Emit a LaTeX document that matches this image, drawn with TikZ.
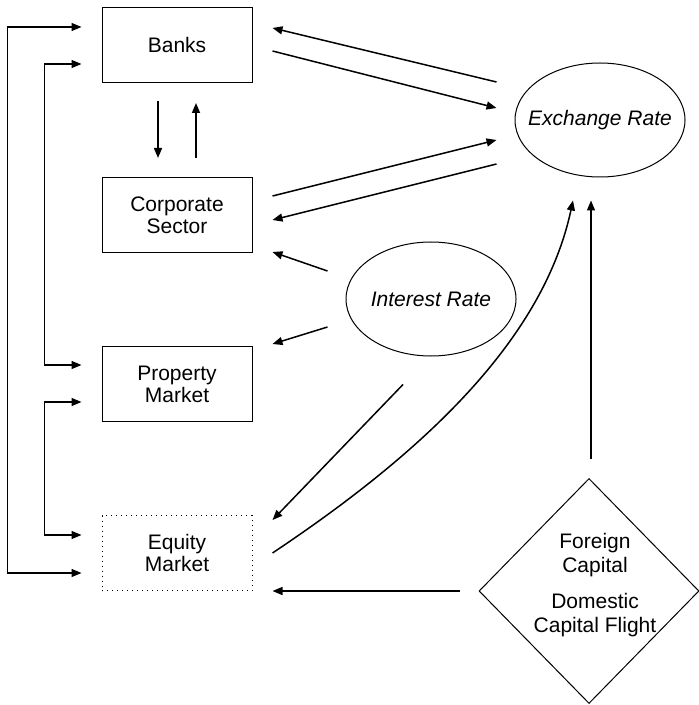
\documentclass[tikz,border=0pt]{standalone}
\usepackage{fontspec}
\setmainfont{Liberation Sans}
\usetikzlibrary{shapes.geometric,arrows.meta}

\begin{document}
\begin{tikzpicture}[x=0.5pt, y=-0.5pt, every node/.style={font=\fontsize{10.5}{11}\selectfont},
  box/.style={rectangle,draw,line width=0.5pt,minimum width=75pt,minimum height=37.5pt,align=center,inner sep=0pt},
  oval/.style={ellipse,draw,line width=0.5pt,minimum width=85pt,minimum height=57pt,inner sep=0pt},
  arr/.style={-{Triangle[length=5pt,width=4pt]},line width=0.75pt},
  twoway/.style={{Triangle[length=5pt,width=4pt]}-{Triangle[length=5pt,width=4pt]},line width=0.65pt}]

\useasboundingbox (0,0) rectangle (698,705);

% Sectors
\node[box] (banks) at (177,45) {Banks};
\node[box] (corp) at (177,215) {Corporate\\Sector};
\node[box] (prop) at (177,384) {Property\\Market};
\node[box,dotted] (equity) at (177,553) {Equity\\Market};

% Rates and capital flows
\node[oval,label=center:{\itshape Exchange Rate}] (exch) at (600,120) {};
\node[oval,label=center:{\itshape Interest Rate}] (intr) at (431,299) {};
\node[diamond,draw,line width=0.5pt,minimum width=110pt,minimum height=112.5pt,inner sep=0pt,
  label={[align=center,xshift=3pt,yshift=3pt,font=\fontsize{10.5}{12}\selectfont]center:Foreign\\Capital\\[6pt]Domestic\\Capital Flight}] (cap) at (589,591) {};

% Left feedback loops
\draw[twoway] ([shift={(-20,-18)}]banks.west) -- ++(-74,0) |- ([shift={(-20,20)}]equity.west);
\draw[twoway] ([shift={(-20,19)}]banks.west) -- ++(-37,0) |- ([shift={(-20,-19)}]prop.west);
\draw[twoway] ([shift={(-20,18)}]prop.west) -- ++(-37,0) |- ([shift={(-20,-18)}]equity.west);

% Banks <-> corporate sector
\draw[arr] ([shift={(-19,18)}]banks.south) -- ([shift={(-19,-19)}]corp.north);
\draw[arr] ([shift={(19,-19)}]corp.north) -- ([shift={(19,20)}]banks.south);

% Exchange rate links
\draw[arr] ([shift={(-18,-38)}]exch.west) -- ([shift={(20,-17)}]banks.east);
\draw[arr] ([shift={(20,6)}]banks.east) -- ([shift={(-18,-12)}]exch.west);
\draw[arr] ([shift={(20,-19)}]corp.east) -- ([shift={(-18,20)}]exch.west);
\draw[arr] ([shift={(-18,44)}]exch.west) -- ([shift={(20,5)}]corp.east);

% Interest rate links
\draw[arr] ([shift={(-18,-28)}]intr.west) -- ([shift={(20,37)}]corp.east);
\draw[arr] ([shift={(-18,28)}]intr.west) -- ([shift={(20,-40)}]prop.east);
\draw[arr] ([shift={(-28,28)}]intr.south) -- ([shift={(20,-33)}]equity.east);

% Equity and capital flows
\draw[arr] ([shift={(20,0)}]equity.east) .. controls +(150,-100) and +(-30,140) .. ([shift={(-27,23)}]exch.south);
\draw[arr] ([shift={(2,-19)}]cap.north) -- ([shift={(-9,23)}]exch.south);
\draw[arr] ([shift={(-19,0)}]cap.west) -- ([shift={(20,38)}]equity.east);

\end{tikzpicture}
\end{document}
